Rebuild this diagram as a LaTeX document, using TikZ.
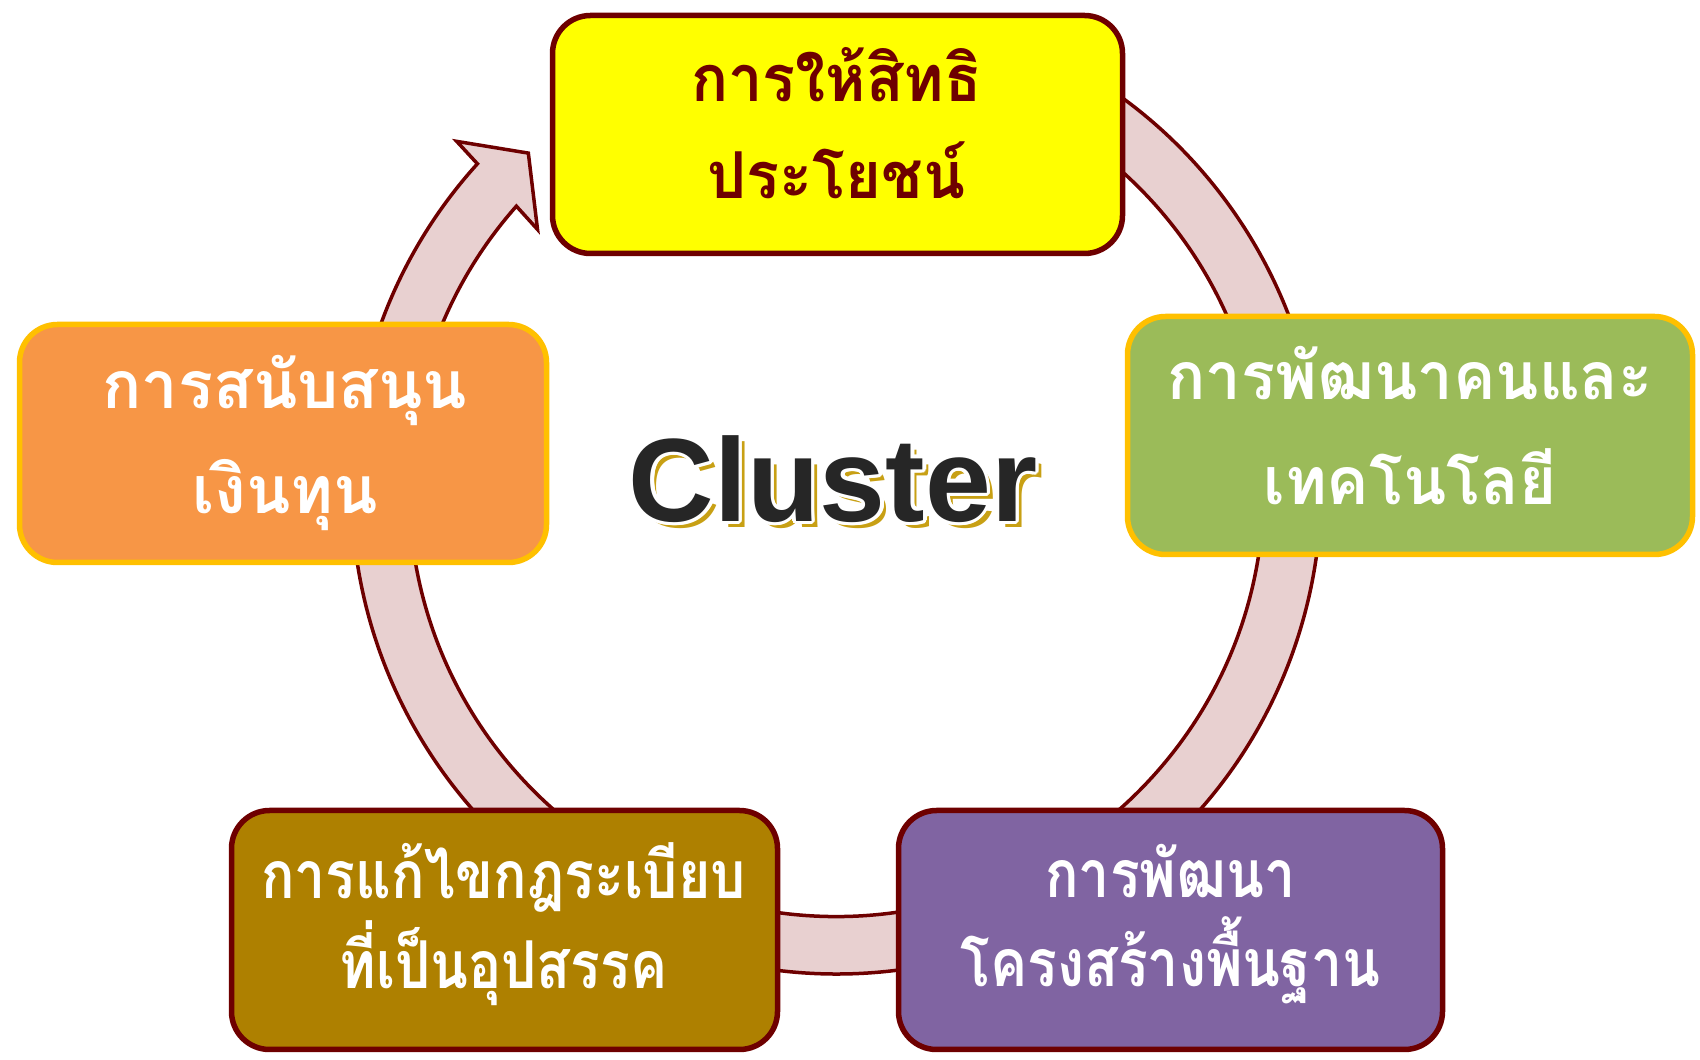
\documentclass[tikz,border=0pt]{standalone}
\usepackage{fontspec}
\usepackage{graphicx}
\usetikzlibrary{calc}
\setmainfont{Liberation Sans}
\newfontfamily\thaifont[Script=Thai]{Loma}
\definecolor{maroonline}{RGB}{110,0,0}
\definecolor{ringfill}{RGB}{232,208,208}
\definecolor{boxyellow}{RGB}{255,255,0}
\definecolor{boxorange}{RGB}{247,150,70}
\definecolor{boxgreen}{RGB}{155,187,89}
\definecolor{boxbrown}{RGB}{174,128,0}
\definecolor{boxpurple}{RGB}{128,100,162}
\definecolor{goldline}{RGB}{255,192,0}
\definecolor{shadowgold}{RGB}{200,160,20}
\definecolor{darktext}{RGB}{38,38,38}
\tikzset{
  cyclebox/.style={rectangle, rounded corners=38pt, line width=5.5pt, inner sep=0pt},
  thailine/.style={anchor=base, inner sep=0pt, font=\thaifont\bfseries\fontsize{66}{80}\selectfont},
  ringstyle/.style={fill=ringfill, draw=maroonline, line width=3.5pt, line join=miter},
  clusterfont/.style={font=\bfseries\fontsize{118.5}{118.5}\selectfont, inner sep=0pt}
}
\begin{document}
\begin{tikzpicture}[x=1pt,y=1pt]
\useasboundingbox (0,0) rectangle (1700,1060);
% circular arrow ring
\begin{scope}[shift={(836.4,570.7)}]
  \draw[ringstyle] (75:484.6pt) arc[start angle=75, end angle=-222.2, radius=484.6pt]
    -- (-222.5:515pt) -- (-227.5:456pt) -- (-221:396pt)
    -- (-221.5:427.3pt) arc[start angle=-221.5, end angle=75, radius=427.3pt] -- cycle;
\end{scope}
% boxes
\node[cyclebox, fill=boxyellow, draw=maroonline,
  minimum width=570pt, minimum height=238pt] (benefit) at (837.5,925.5) {};
\node[cyclebox, fill=boxorange, draw=goldline,
  minimum width=527pt, minimum height=238pt] (funding) at (283,616.5) {};
\node[cyclebox, fill=boxgreen, draw=goldline,
  minimum width=565pt, minimum height=238pt] (people) at (1410,624.5) {};
\node[cyclebox, fill=boxbrown, draw=maroonline,
  minimum width=546pt, minimum height=239pt] (rules) at (504.5,130) {};
\node[cyclebox, fill=boxpurple, draw=maroonline,
  minimum width=544pt, minimum height=239pt] (infra) at (1170.5,130) {};
% box texts
\node[thailine, text=maroonline] (benefitA) at (836.5,958) {\scalebox{0.93}[0.98]{การให้สิทธิ}};
\node[thailine, text=maroonline] (benefitB) at (836.5,861) {\scalebox{0.93}[0.98]{ประโยชน์}};
\node[thailine, text=white] (fundingA) at (285,651) {\scalebox{0.985}[1]{การสนับสนุน}};
\node[thailine, text=white] (fundingB) at (285,546) {\scalebox{0.985}[1]{เงินทุน}};
\node[thailine, text=white] (peopleA) at (1410,660) {\scalebox{0.96}[1]{การพัฒนาคนและ}};
\node[thailine, text=white] (peopleB) at (1410,555) {\scalebox{0.96}[1]{เทคโนโลยี}};
\node[thailine, text=white] (rulesA) at (503.5,161) {\scalebox{0.84}[1]{การแก้ไขกฎระเบียบ}};
\node[thailine, text=white] (rulesB) at (503.5,71) {\scalebox{0.84}[1]{ที่เป็นอุปสรรค}};
\node[thailine, text=white] (infraA) at (1170.5,162) {\scalebox{0.84}[1]{การพัฒนา}};
\node[thailine, text=white] (infraB) at (1170.5,73) {\scalebox{0.84}[1]{โครงสร้างพื้นฐาน}};
% Cluster title with shadow and white outline
\node[clusterfont, text=shadowgold] (clustershadow) at (839,575) {Cluster};
\foreach \i in {0,...,15}{
  \node[clusterfont, text=white] (clusteroutline\i) at ($(833,581)+(\i*22.5:3.5pt)$) {Cluster};
}
\node[clusterfont, text=darktext] (cluster) at (833,581) {Cluster};
\end{tikzpicture}
\end{document}
